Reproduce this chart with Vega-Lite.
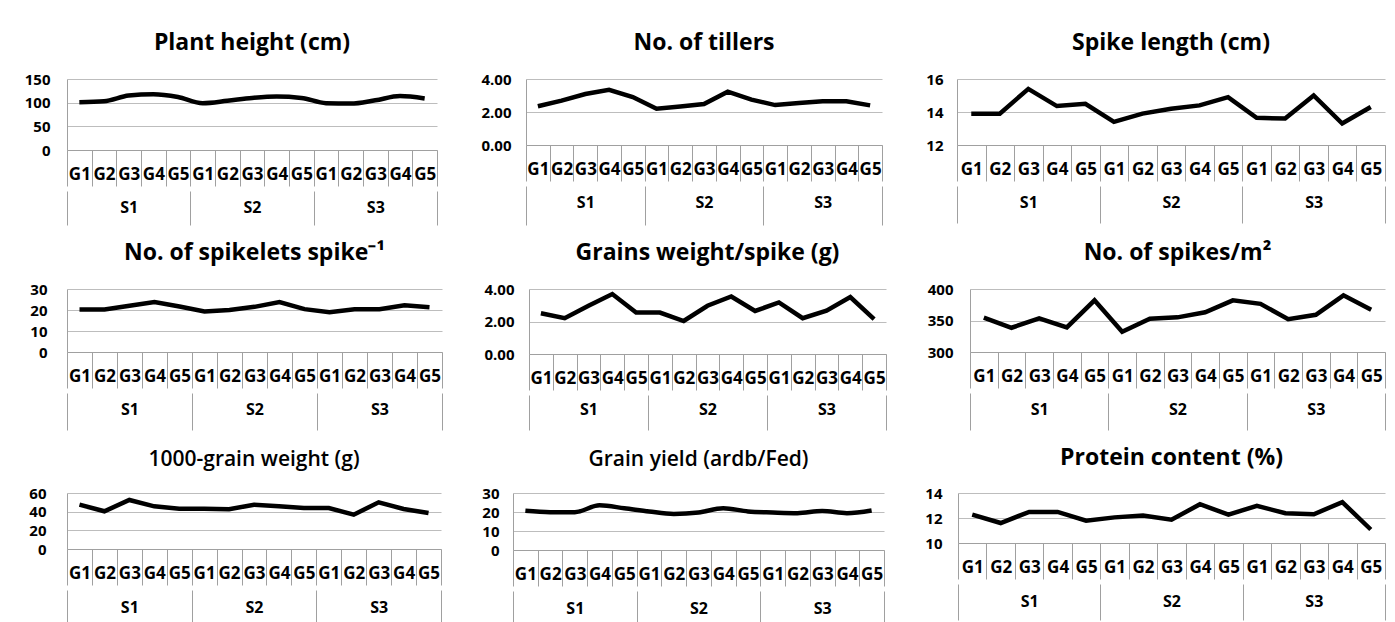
{
"$schema":"https://vega.github.io/schema/vega-lite/v6.json",
"padding":{"left":24,"top":32,"right":5,"bottom":0},
"background":"white",
"datasets":{"d":[
{"t":"PH","k":"S1G1","S":"S1","v":101},{"t":"PH","k":"S1G2","S":"S1","v":103},{"t":"PH","k":"S1G3","S":"S1","v":115},{"t":"PH","k":"S1G4","S":"S1","v":118},{"t":"PH","k":"S1G5","S":"S1","v":112},
{"t":"PH","k":"S2G1","S":"S2","v":99},{"t":"PH","k":"S2G2","S":"S2","v":104},{"t":"PH","k":"S2G3","S":"S2","v":110},{"t":"PH","k":"S2G4","S":"S2","v":113},{"t":"PH","k":"S2G5","S":"S2","v":110},
{"t":"PH","k":"S3G1","S":"S3","v":99},{"t":"PH","k":"S3G2","S":"S3","v":98},{"t":"PH","k":"S3G3","S":"S3","v":105},{"t":"PH","k":"S3G4","S":"S3","v":114},{"t":"PH","k":"S3G5","S":"S3","v":109},
{"t":"NT","k":"S1G1","S":"S1","v":2.35},{"t":"NT","k":"S1G2","S":"S1","v":2.69},{"t":"NT","k":"S1G3","S":"S1","v":3.09},{"t":"NT","k":"S1G4","S":"S1","v":3.35},{"t":"NT","k":"S1G5","S":"S1","v":2.91},
{"t":"NT","k":"S2G1","S":"S2","v":2.2},{"t":"NT","k":"S2G2","S":"S2","v":2.33},{"t":"NT","k":"S2G3","S":"S2","v":2.48},{"t":"NT","k":"S2G4","S":"S2","v":3.23},{"t":"NT","k":"S2G5","S":"S2","v":2.75},
{"t":"NT","k":"S3G1","S":"S3","v":2.42},{"t":"NT","k":"S3G2","S":"S3","v":2.55},{"t":"NT","k":"S3G3","S":"S3","v":2.65},{"t":"NT","k":"S3G4","S":"S3","v":2.65},{"t":"NT","k":"S3G5","S":"S3","v":2.4},
{"t":"SL","k":"S1G1","S":"S1","v":13.9},{"t":"SL","k":"S1G2","S":"S1","v":13.9},{"t":"SL","k":"S1G3","S":"S1","v":15.4},{"t":"SL","k":"S1G4","S":"S1","v":14.36},{"t":"SL","k":"S1G5","S":"S1","v":14.5},
{"t":"SL","k":"S2G1","S":"S2","v":13.4},{"t":"SL","k":"S2G2","S":"S2","v":13.9},{"t":"SL","k":"S2G3","S":"S2","v":14.2},{"t":"SL","k":"S2G4","S":"S2","v":14.4},{"t":"SL","k":"S2G5","S":"S2","v":14.9},
{"t":"SL","k":"S3G1","S":"S3","v":13.65},{"t":"SL","k":"S3G2","S":"S3","v":13.6},{"t":"SL","k":"S3G3","S":"S3","v":15.0},{"t":"SL","k":"S3G4","S":"S3","v":13.3},{"t":"SL","k":"S3G5","S":"S3","v":14.3},
{"t":"SP","k":"S1G1","S":"S1","v":20.2},{"t":"SP","k":"S1G2","S":"S1","v":20.2},{"t":"SP","k":"S1G3","S":"S1","v":22},{"t":"SP","k":"S1G4","S":"S1","v":23.8},{"t":"SP","k":"S1G5","S":"S1","v":21.7},
{"t":"SP","k":"S2G1","S":"S2","v":19.3},{"t":"SP","k":"S2G2","S":"S2","v":20},{"t":"SP","k":"S2G3","S":"S2","v":21.5},{"t":"SP","k":"S2G4","S":"S2","v":23.8},{"t":"SP","k":"S2G5","S":"S2","v":20.4},
{"t":"SP","k":"S3G1","S":"S3","v":18.9},{"t":"SP","k":"S3G2","S":"S3","v":20.4},{"t":"SP","k":"S3G3","S":"S3","v":20.4},{"t":"SP","k":"S3G4","S":"S3","v":22.2},{"t":"SP","k":"S3G5","S":"S3","v":21.3},
{"t":"GW","k":"S1G1","S":"S1","v":2.51},{"t":"GW","k":"S1G2","S":"S1","v":2.2},{"t":"GW","k":"S1G3","S":"S1","v":2.97},{"t":"GW","k":"S1G4","S":"S1","v":3.69},{"t":"GW","k":"S1G5","S":"S1","v":2.55},
{"t":"GW","k":"S2G1","S":"S2","v":2.55},{"t":"GW","k":"S2G2","S":"S2","v":2.03},{"t":"GW","k":"S2G3","S":"S2","v":2.97},{"t":"GW","k":"S2G4","S":"S2","v":3.54},{"t":"GW","k":"S2G5","S":"S2","v":2.65},
{"t":"GW","k":"S3G1","S":"S3","v":3.17},{"t":"GW","k":"S3G2","S":"S3","v":2.2},{"t":"GW","k":"S3G3","S":"S3","v":2.67},{"t":"GW","k":"S3G4","S":"S3","v":3.5},{"t":"GW","k":"S3G5","S":"S3","v":2.14},
{"t":"SM","k":"S1G1","S":"S1","v":354.5},{"t":"SM","k":"S1G2","S":"S1","v":338.5},{"t":"SM","k":"S1G3","S":"S1","v":353.5},{"t":"SM","k":"S1G4","S":"S1","v":339},{"t":"SM","k":"S1G5","S":"S1","v":382},
{"t":"SM","k":"S2G1","S":"S2","v":332},{"t":"SM","k":"S2G2","S":"S2","v":352.7},{"t":"SM","k":"S2G3","S":"S2","v":355},{"t":"SM","k":"S2G4","S":"S2","v":363},{"t":"SM","k":"S2G5","S":"S2","v":382},
{"t":"SM","k":"S3G1","S":"S3","v":376.5},{"t":"SM","k":"S3G2","S":"S3","v":352},{"t":"SM","k":"S3G3","S":"S3","v":359},{"t":"SM","k":"S3G4","S":"S3","v":390},{"t":"SM","k":"S3G5","S":"S3","v":367},
{"t":"TW","k":"S1G1","S":"S1","v":47.5},{"t":"TW","k":"S1G2","S":"S1","v":40.4},{"t":"TW","k":"S1G3","S":"S1","v":52.5},{"t":"TW","k":"S1G4","S":"S1","v":45.7},{"t":"TW","k":"S1G5","S":"S1","v":43.2},
{"t":"TW","k":"S2G1","S":"S2","v":43.2},{"t":"TW","k":"S2G2","S":"S2","v":42.5},{"t":"TW","k":"S2G3","S":"S2","v":47.5},{"t":"TW","k":"S2G4","S":"S2","v":45.7},{"t":"TW","k":"S2G5","S":"S2","v":43.9},
{"t":"TW","k":"S3G1","S":"S3","v":43.9},{"t":"TW","k":"S3G2","S":"S3","v":36.8},{"t":"TW","k":"S3G3","S":"S3","v":50},{"t":"TW","k":"S3G4","S":"S3","v":42.9},{"t":"TW","k":"S3G5","S":"S3","v":38.6},
{"t":"GY","k":"S1G1","S":"S1","v":20.6},{"t":"GY","k":"S1G2","S":"S1","v":19.9},{"t":"GY","k":"S1G3","S":"S1","v":19.9},{"t":"GY","k":"S1G4","S":"S1","v":23.5},{"t":"GY","k":"S1G5","S":"S1","v":22},
{"t":"GY","k":"S2G1","S":"S2","v":20.3},{"t":"GY","k":"S2G2","S":"S2","v":19},{"t":"GY","k":"S2G3","S":"S2","v":19.75},{"t":"GY","k":"S2G4","S":"S2","v":22},{"t":"GY","k":"S2G5","S":"S2","v":20.3},
{"t":"GY","k":"S3G1","S":"S3","v":19.75},{"t":"GY","k":"S3G2","S":"S3","v":19.4},{"t":"GY","k":"S3G3","S":"S3","v":20.5},{"t":"GY","k":"S3G4","S":"S3","v":19.4},{"t":"GY","k":"S3G5","S":"S3","v":20.8},
{"t":"PC","k":"S1G1","S":"S1","v":12.27},{"t":"PC","k":"S1G2","S":"S1","v":11.6},{"t":"PC","k":"S1G3","S":"S1","v":12.49},{"t":"PC","k":"S1G4","S":"S1","v":12.49},{"t":"PC","k":"S1G5","S":"S1","v":11.78},
{"t":"PC","k":"S2G1","S":"S2","v":12.05},{"t":"PC","k":"S2G2","S":"S2","v":12.2},{"t":"PC","k":"S2G3","S":"S2","v":11.86},{"t":"PC","k":"S2G4","S":"S2","v":13.1},{"t":"PC","k":"S2G5","S":"S2","v":12.27},
{"t":"PC","k":"S3G1","S":"S3","v":12.97},{"t":"PC","k":"S3G2","S":"S3","v":12.38},{"t":"PC","k":"S3G3","S":"S3","v":12.3},{"t":"PC","k":"S3G4","S":"S3","v":13.27},{"t":"PC","k":"S3G5","S":"S3","v":11.08}
]},
"data":{"name":"d"},
"spacing":16,
"vconcat":[
{"spacing":42,"hconcat":[
 {"spacing":0,"vconcat":[
  {"width":370,"height":71,"title":{"text":"Plant height (cm)"},"transform":[{"filter":"datum.t == 'PH'"}],
   "mark":{"type":"line","color":"black","strokeWidth":4.5,"interpolate":"monotone"},
   "encoding":{"x":{"field":"k","type":"nominal","scale":{"type":"band","paddingInner":0,"paddingOuter":0},"axis":{"title":null,"labelExpr":"isString(datum.value) ? substring(datum.value,2) : ''","tickBand":"extent","tickSize":36,"labelPadding":-20,"labelAngle":0,"labelFontSize":17,"labelOverlap":false}},
    "y":{"field":"v","type":"quantitative","scale":{"domain":[0,150],"nice":false,"zero":false},"axis":{"values":[0,50,100,150],"title":null,"labelPadding":17}}}},
  {"width":370,"height":1,"transform":[{"filter":"datum.t == 'PH'"}],"mark":{"type":"point","opacity":0},
   "encoding":{"x":{"field":"S","type":"nominal","scale":{"type":"band","paddingInner":0,"paddingOuter":0},"axis":{"title":null,"tickBand":"extent","tickSize":34,"labelPadding":-26,"labelAngle":0,"labelFontSize":16,"domain":false}}}}
 ]},
 {"spacing":0,"vconcat":[
  {"width":356,"height":66,"title":{"text":"No. of tillers"},"transform":[{"filter":"datum.t == 'NT'"}],
   "mark":{"type":"line","color":"black","strokeWidth":4.5},
   "encoding":{"x":{"field":"k","type":"nominal","scale":{"type":"band","paddingInner":0,"paddingOuter":0},"axis":{"title":null,"labelExpr":"isString(datum.value) ? substring(datum.value,2) : ''","tickBand":"extent","tickSize":36,"labelPadding":-20,"labelAngle":0,"labelFontSize":17,"labelOverlap":false}},
    "y":{"field":"v","type":"quantitative","scale":{"domain":[0,4],"nice":false,"zero":false},"axis":{"values":[0,2,4],"format":".2f","title":null,"labelPadding":15}}}},
  {"width":356,"height":1,"transform":[{"filter":"datum.t == 'NT'"}],"mark":{"type":"point","opacity":0},
   "encoding":{"x":{"field":"S","type":"nominal","scale":{"type":"band","paddingInner":0,"paddingOuter":0},"axis":{"title":null,"tickBand":"extent","tickSize":39,"labelPadding":-31,"labelAngle":0,"labelFontSize":16,"domain":false}}}}
 ]},
 {"spacing":0,"vconcat":[
  {"width":428,"height":66,"title":{"text":"Spike length (cm)"},"transform":[{"filter":"datum.t == 'SL'"}],
   "mark":{"type":"line","color":"black","strokeWidth":4.5},
   "encoding":{"x":{"field":"k","type":"nominal","scale":{"type":"band","paddingInner":0,"paddingOuter":0},"axis":{"title":null,"labelExpr":"isString(datum.value) ? substring(datum.value,2) : ''","tickBand":"extent","tickSize":36,"labelPadding":-20,"labelAngle":0,"labelFontSize":17,"labelOverlap":false}},
    "y":{"field":"v","type":"quantitative","scale":{"domain":[12,16],"nice":false,"zero":false},"axis":{"values":[12,14,16],"title":null,"labelPadding":14}}}},
  {"width":428,"height":1,"transform":[{"filter":"datum.t == 'SL'"}],"mark":{"type":"point","opacity":0},
   "encoding":{"x":{"field":"S","type":"nominal","scale":{"type":"band","paddingInner":0,"paddingOuter":0},"axis":{"title":null,"tickBand":"extent","tickSize":37,"labelPadding":-29,"labelAngle":0,"labelFontSize":16,"domain":false}}}}
 ]}
]},
{"spacing":40,"hconcat":[
 {"spacing":0,"vconcat":[
  {"width":375,"height":63,"title":{"text":"No. of spikelets  spike⁻¹"},"transform":[{"filter":"datum.t == 'SP'"}],
   "mark":{"type":"line","color":"black","strokeWidth":4.5},
   "encoding":{"x":{"field":"k","type":"nominal","scale":{"type":"band","paddingInner":0,"paddingOuter":0},"axis":{"title":null,"labelExpr":"isString(datum.value) ? substring(datum.value,2) : ''","tickBand":"extent","tickSize":36,"labelPadding":-20,"labelAngle":0,"labelFontSize":17,"labelOverlap":false}},
    "y":{"field":"v","type":"quantitative","scale":{"domain":[0,30],"nice":false,"zero":false},"axis":{"values":[0,10,20,30],"title":null,"labelPadding":20}}}},
  {"width":375,"height":1,"transform":[{"filter":"datum.t == 'SP'"}],"mark":{"type":"point","opacity":0},
   "encoding":{"x":{"field":"S","type":"nominal","scale":{"type":"band","paddingInner":0,"paddingOuter":0},"axis":{"title":null,"tickBand":"extent","tickSize":37,"labelPadding":-29,"labelAngle":0,"labelFontSize":16,"domain":false}}}}
 ]},
 {"spacing":0,"vconcat":[
  {"width":357,"height":65,"title":{"text":"Grains weight/spike (g)"},"transform":[{"filter":"datum.t == 'GW'"}],
   "mark":{"type":"line","color":"black","strokeWidth":4.5},
   "encoding":{"x":{"field":"k","type":"nominal","scale":{"type":"band","paddingInner":0,"paddingOuter":0},"axis":{"title":null,"labelExpr":"isString(datum.value) ? substring(datum.value,2) : ''","tickBand":"extent","tickSize":36,"labelPadding":-20,"labelAngle":0,"labelFontSize":17,"labelOverlap":false}},
    "y":{"field":"v","type":"quantitative","scale":{"domain":[0,4],"nice":false,"zero":false},"axis":{"values":[0,2,4],"format":".2f","title":null,"labelPadding":15}}}},
  {"width":357,"height":1,"transform":[{"filter":"datum.t == 'GW'"}],"mark":{"type":"point","opacity":0},
   "encoding":{"x":{"field":"S","type":"nominal","scale":{"type":"band","paddingInner":0,"paddingOuter":0},"axis":{"title":null,"tickBand":"extent","tickSize":35,"labelPadding":-29,"labelAngle":0,"labelFontSize":16,"domain":false}}}}
 ]},
 {"spacing":0,"vconcat":[
  {"width":415,"height":63,"title":{"text":"No. of spikes/m²"},"transform":[{"filter":"datum.t == 'SM'"}],
   "mark":{"type":"line","color":"black","strokeWidth":4.5},
   "encoding":{"x":{"field":"k","type":"nominal","scale":{"type":"band","paddingInner":0,"paddingOuter":0},"axis":{"title":null,"labelExpr":"isString(datum.value) ? substring(datum.value,2) : ''","tickBand":"extent","tickSize":36,"labelPadding":-20,"labelAngle":0,"labelFontSize":17,"labelOverlap":false}},
    "y":{"field":"v","type":"quantitative","scale":{"domain":[300,400],"nice":false,"zero":false},"axis":{"values":[300,350,400],"title":null,"labelPadding":17}}}},
  {"width":415,"height":1,"transform":[{"filter":"datum.t == 'SM'"}],"mark":{"type":"point","opacity":0},
   "encoding":{"x":{"field":"S","type":"nominal","scale":{"type":"band","paddingInner":0,"paddingOuter":0},"axis":{"title":null,"tickBand":"extent","tickSize":37,"labelPadding":-29,"labelAngle":0,"labelFontSize":16,"domain":false}}}}
 ]}
]},
{"spacing":39,"hconcat":[
 {"spacing":0,"vconcat":[
  {"width":374,"height":56,"title":{"text":"1000-grain weight (g)","fontSize":21,"fontWeight":600,"offset":16},"transform":[{"filter":"datum.t == 'TW'"}],
   "mark":{"type":"line","color":"black","strokeWidth":4.5},
   "encoding":{"x":{"field":"k","type":"nominal","scale":{"type":"band","paddingInner":0,"paddingOuter":0},"axis":{"title":null,"labelExpr":"isString(datum.value) ? substring(datum.value,2) : ''","tickBand":"extent","tickSize":36,"labelPadding":-20,"labelAngle":0,"labelFontSize":17,"labelOverlap":false}},
    "y":{"field":"v","type":"quantitative","scale":{"domain":[0,60],"nice":false,"zero":false},"axis":{"values":[0,20,40,60],"title":null,"labelPadding":21}}}},
  {"width":374,"height":1,"transform":[{"filter":"datum.t == 'TW'"}],"mark":{"type":"point","opacity":0},
   "encoding":{"x":{"field":"S","type":"nominal","scale":{"type":"band","paddingInner":0,"paddingOuter":0},"axis":{"title":null,"tickBand":"extent","tickSize":36,"labelPadding":-27,"labelAngle":0,"labelFontSize":16,"domain":false}}}}
 ]},
 {"spacing":0,"vconcat":[
  {"width":371,"height":57,"title":{"text":"Grain yield (ardb/Fed)","fontSize":21,"fontWeight":600,"offset":16},"transform":[{"filter":"datum.t == 'GY'"}],
   "mark":{"type":"line","color":"black","strokeWidth":4.5,"interpolate":"monotone"},
   "encoding":{"x":{"field":"k","type":"nominal","scale":{"type":"band","paddingInner":0,"paddingOuter":0},"axis":{"title":null,"labelExpr":"isString(datum.value) ? substring(datum.value,2) : ''","tickBand":"extent","tickSize":36,"labelPadding":-20,"labelAngle":0,"labelFontSize":17,"labelOverlap":false}},
    "y":{"field":"v","type":"quantitative","scale":{"domain":[0,30],"nice":false,"zero":false},"axis":{"values":[0,10,20,30],"title":null,"labelPadding":14}}}},
  {"width":371,"height":1,"transform":[{"filter":"datum.t == 'GY'"}],"mark":{"type":"point","opacity":0},
   "encoding":{"x":{"field":"S","type":"nominal","scale":{"type":"band","paddingInner":0,"paddingOuter":0},"axis":{"title":null,"tickBand":"extent","tickSize":36,"labelPadding":-27,"labelAngle":0,"labelFontSize":16,"domain":false}}}}
 ]},
 {"spacing":0,"vconcat":[
  {"width":427,"height":50,"title":{"text":"Protein content (%)","offset":16},"transform":[{"filter":"datum.t == 'PC'"}],
   "mark":{"type":"line","color":"black","strokeWidth":4.5},
   "encoding":{"x":{"field":"k","type":"nominal","scale":{"type":"band","paddingInner":0,"paddingOuter":0},"axis":{"title":null,"labelExpr":"isString(datum.value) ? substring(datum.value,2) : ''","tickBand":"extent","tickSize":36,"labelPadding":-20,"labelAngle":0,"labelFontSize":17,"labelOverlap":false}},
    "y":{"field":"v","type":"quantitative","scale":{"domain":[10,14],"nice":false,"zero":false},"axis":{"values":[10,12,14],"title":null,"labelPadding":16}}}},
  {"width":427,"height":1,"transform":[{"filter":"datum.t == 'PC'"}],"mark":{"type":"point","opacity":0},
   "encoding":{"x":{"field":"S","type":"nominal","scale":{"type":"band","paddingInner":0,"paddingOuter":0},"axis":{"title":null,"tickBand":"extent","tickSize":36,"labelPadding":-27,"labelAngle":0,"labelFontSize":16,"domain":false}}}}
 ]}
]}
],
"config":{
 "font":"Open Sans",
 "view":{"stroke":null},
 "title":{"font":"Open Sans","fontSize":23,"fontWeight":"bold","color":"black","offset":17,"anchor":"middle"},
 "axis":{"labelFont":"Open Sans","labelFontWeight":"bold","labelColor":"black","labelFontSize":15,"domainColor":"#a0a0a0","tickColor":"#a0a0a0","gridColor":"#bdbdbd"},
 "axisY":{"ticks":false,"grid":true,"domain":true},
 "axisX":{"grid":false}
}
}
